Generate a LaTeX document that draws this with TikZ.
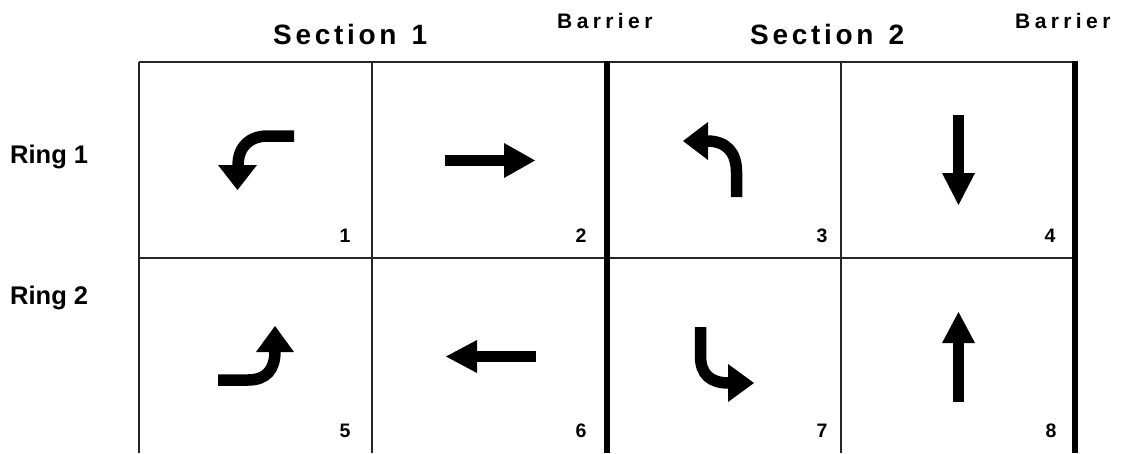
\documentclass[tikz,border=0pt]{standalone}
\usepackage{fontspec}
\setmainfont{Liberation Sans}
\newcommand\gapS{\kern3.7pt}
\newcommand\gapB{\kern4.4pt}
\begin{document}
\begin{tikzpicture}[x=1pt,y=-1pt,
 gridline/.style={draw=black!85,line width=1.6},
 barrier/.style={draw=black,line width=6},
 shaft/.style={draw=black,line width=11.5},
 head/.style={fill=black},
 ringlbl/.style={anchor=base west,inner sep=0,font=\fontsize{25.5}{30}\selectfont\bfseries},
 seclbl/.style={anchor=base west,inner sep=0,font=\fontsize{28}{32}\selectfont\bfseries},
 barlbl/.style={anchor=base west,inner sep=0,font=\fontsize{21}{24}\selectfont\bfseries},
 numlbl/.style={anchor=base,inner sep=0,font=\fontsize{19.5}{22}\selectfont\bfseries}]
\useasboundingbox (0,0) rectangle (1137,453);
% grid
\draw[gridline] (139,62) -- (1075,62);
\draw[gridline] (139,258) -- (1075,258);
\draw[gridline] (139,62) -- (139,453);
\draw[gridline] (372,62) -- (372,453);
\draw[gridline] (841,62) -- (841,453);
\draw[barrier] (607,61) -- (607,453);
\draw[barrier] (1075,61) -- (1075,453);
% arrows
\draw[shaft] (294,136) -- (268,136) .. controls (250,136) and (238,146) .. (238,166);
\fill[head] (218,165) -- (257,165) -- (237.5,190) -- cycle;
\draw[shaft] (445,160.5) -- (505,160.5);
\fill[head] (504,143) -- (535,160.5) -- (504,178) -- cycle;
\draw[shaft] (736.5,197) -- (736.5,172) .. controls (736.5,152) and (726,141) .. (707,141);
\fill[head] (708,122) -- (708,160) -- (683,141) -- cycle;
\draw[shaft] (958.5,115) -- (958.5,174);
\fill[head] (942,173) -- (975,173) -- (958.5,205) -- cycle;
\draw[shaft] (218,380) -- (248,380) .. controls (266,380) and (275,370) .. (275,351);
\fill[head] (256,352) -- (294,352) -- (275,326) -- cycle;
\draw[shaft] (536,356.5) -- (476,356.5);
\fill[head] (477,340) -- (477,373) -- (446,356.5) -- cycle;
\draw[shaft] (700.5,327) -- (700.5,356) .. controls (700.5,374) and (710,383) .. (729,383);
\fill[head] (728,364) -- (728,402) -- (754,383) -- cycle;
\draw[shaft] (958.5,402) -- (958.5,342);
\fill[head] (942,343) -- (975,343) -- (958.5,312) -- cycle;
% labels
\node[ringlbl] (ring1) at (10,163) {Ring 1};
\node[ringlbl] (ring2) at (10,304) {Ring 2};
\node[seclbl] (sec1) at (273,44) {S\gapS e\gapS c\gapS t\gapS i\gapS o\gapS n\gapS\ \gapS 1};
\node[seclbl] (sec2) at (750,44) {S\gapS e\gapS c\gapS t\gapS i\gapS o\gapS n\gapS\ \gapS 2};
\node[barlbl] (bar1) at (557,28) {B\gapB a\gapB r\gapB r\gapB i\gapB e\gapB r};
\node[barlbl] (bar2) at (1015,28) {B\gapB a\gapB r\gapB r\gapB i\gapB e\gapB r};
\node[numlbl] (n1) at (345,242) {1};
\node[numlbl] (n2) at (581,242) {2};
\node[numlbl] (n3) at (822,242) {3};
\node[numlbl] (n4) at (1050,242) {4};
\node[numlbl] (n5) at (345,437) {5};
\node[numlbl] (n6) at (581,437) {6};
\node[numlbl] (n7) at (822,437) {7};
\node[numlbl] (n8) at (1051,437) {8};
\end{tikzpicture}
\end{document}
